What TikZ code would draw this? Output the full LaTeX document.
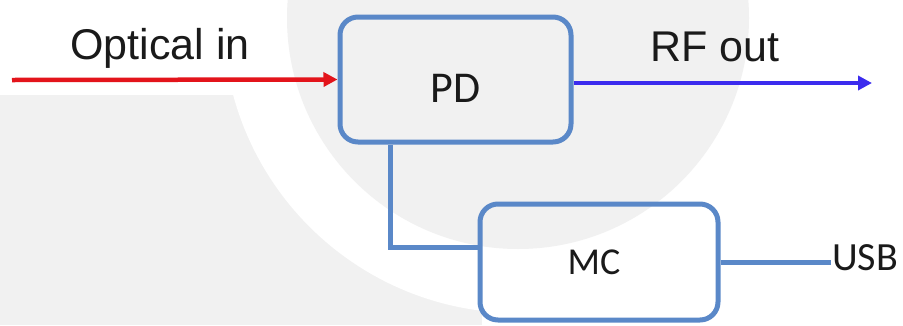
\documentclass[tikz,border=0pt]{standalone}
\usepackage{fontspec}
\setmainfont{Liberation Sans}
\newfontfamily\calibrifont{Carlito}
\usepackage{xcolor}
\usetikzlibrary{arrows.meta,positioning,calc}
\definecolor{boxblue}{HTML}{5A88C8}
\definecolor{optred}{HTML}{E3141B}
\definecolor{rfblue}{HTML}{3B2BEE}
\definecolor{wmgray}{HTML}{F1F1F1}
\definecolor{ink}{HTML}{1A1A1A}
\tikzset{
  block/.style={rounded corners=18pt, draw=boxblue, line width=5pt, align=center,
    inner sep=0pt, font=\calibrifont\fontsize{44}{44}\selectfont, text=ink},
  link/.style={draw=boxblue, line width=5pt},
  signal/.style={line width=4.5pt, -{Triangle[length=14pt,width=14pt]}},
  caption/.style={anchor=base, inner sep=0pt, font=\fontsize{43}{43}\selectfont, text=ink}
}

\begin{document}
\begin{tikzpicture}[
    x=1pt, y=-1pt,
    box/.style={block, minimum width=231pt, minimum height=125pt}
]
\useasboundingbox (0,0) rectangle (903,325);

% faint background mark
\fill[wmgray] (0,95) rectangle (482,325);
\fill[white] (518,18) circle[radius=295pt];
\fill[wmgray] (518,18) circle[radius=231pt];

\node (pd) [box, text height=45pt, text depth=0pt] at (455.5,79.5) {PD};
\node (mc) [box, minimum width=238pt, minimum height=116pt,
            font=\calibrifont\fontsize{38}{38}\selectfont] at (599,262) {MC\hspace*{10pt}};

\node (optlabel) [caption] at (160,59) {Optical in};
\node (rflabel)  [caption] at (715,61) {RF out};
\node (usb) [anchor=west, inner sep=1pt, text=ink,
             font=\calibrifont\fontsize{40}{40}\selectfont] at (831,258) {USB};

\coordinate (optin) at (12,80);
\coordinate (rfend) at (872,83);

\draw[signal, optred] (optin) -- (pd.west);
\draw[signal, rfblue] (pd.east |- rfend) -- (rfend);
\draw[link] ([xshift=-65pt]pd.south) |- ([yshift=15pt]mc.west);
\draw[link] (mc.east) -- (mc.east -| usb.west);

\end{tikzpicture}
\end{document}
